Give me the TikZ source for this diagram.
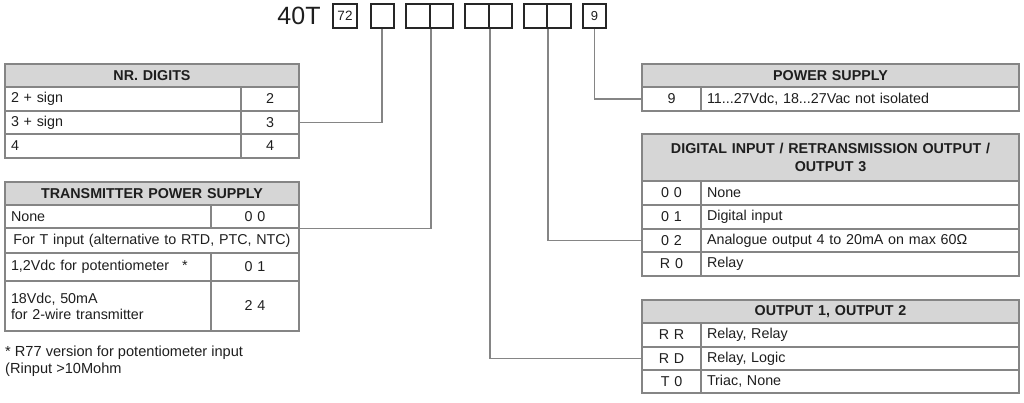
\documentclass[tikz,border=0pt]{standalone}
\usepackage{fontspec}
\setmainfont{Liberation Sans}
\definecolor{bord}{HTML}{858585}
\definecolor{hdr}{HTML}{D6D6D6}
\definecolor{txt}{HTML}{1E1E1E}
\tikzset{
 cellbox/.style={draw=bord, line width=1.3pt, inner sep=0pt, text=txt, font=\fontsize{14.3}{16}\selectfont},
 hdrcell/.style={fill=hdr, font=\fontsize{14.3}{18.5}\selectfont\bfseries, align=center},
 lcell/.style={align=left},
 ccell/.style={align=center},
 codebox/.style={draw=black!85, line width=2pt, inner sep=0pt, minimum height=24pt, text=txt},
 link/.style={draw=bord, line width=1.2pt},
 plain/.style={inner sep=0pt, text=txt, font=\fontsize{14.6}{17}\selectfont}
}
\newcommand\tcell[7]{\pgfmathsetlengthmacro\tcw{(#4-12)*1pt}\node[cellbox,#6,minimum width=#4pt,minimum height=#5pt,text width=\tcw] (#1) at ({#2+#4/2},{#3+#5/2}) {#7};}
\begin{document}
\begin{tikzpicture}[x=1pt,y=-1pt]
\useasboundingbox (0,0) rectangle (1024,403);
% code boxes
\node[plain, font=\fontsize{25}{28}\selectfont] (title) at (299,16) {40T};
\node[codebox, minimum width=24pt, font=\fontsize{13.5}{15}\selectfont] (b1) at (345,16) {72};
\node[codebox, minimum width=23pt] (b2) at (382,16) {};
\node[codebox, minimum width=24pt] (b3a) at (418,16) {};
\node[codebox, minimum width=23pt] (b3b) at (441.5,16) {};
\node[codebox, minimum width=24pt] (b4a) at (477,16) {};
\node[codebox, minimum width=23pt] (b4b) at (500.5,16) {};
\node[codebox, minimum width=23pt] (b5a) at (535.5,16) {};
\node[codebox, minimum width=24pt] (b5b) at (559,16) {};
\node[codebox, minimum width=23pt, font=\fontsize{13}{15}\selectfont] (b9) at (594.5,16) {9};
% table 1: NR. DIGITS
\tcell{t1h}{5}{64}{294}{23}{hdrcell}{NR. DIGITS}
\tcell{t1r1l}{5}{87}{236}{24}{lcell}{2 + sign}
\tcell{t1r1v}{241}{87}{58}{24}{ccell}{2}
\tcell{t1r2l}{5}{111}{236}{23}{lcell}{3 + sign}
\tcell{t1r2v}{241}{111}{58}{23}{ccell}{3}
\tcell{t1r3l}{5}{134}{236}{24}{lcell}{4}
\tcell{t1r3v}{241}{134}{58}{24}{ccell}{4}
% table 2: TRANSMITTER POWER SUPPLY
\tcell{t2h}{5}{182}{294}{23}{hdrcell}{TRANSMITTER POWER SUPPLY}
\tcell{t2r1l}{5}{205}{206}{23}{lcell}{None}
\tcell{t2r1v}{211}{205}{88}{23}{ccell}{0 0}
\tcell{t2r2}{5}{228}{294}{25}{ccell}{For T input (alternative to RTD, PTC, NTC)}
\tcell{t2r3l}{5}{253}{206}{28}{lcell}{1,2Vdc for potentiometer\hspace{13pt}*}
\tcell{t2r3v}{211}{253}{88}{28}{ccell}{0 1}
\tcell{t2r4l}{5}{281}{206}{50}{lcell}{18Vdc, 50mA\\for 2-wire transmitter}
\tcell{t2r4v}{211}{281}{88}{50}{ccell}{2 4}
\node[plain, anchor=north west, align=left] (note) at (5,346) {* R77 version for potentiometer input\\(Rinput >10Mohm};
% table 3: POWER SUPPLY
\tcell{p0}{642}{64}{377}{23}{hdrcell}{POWER SUPPLY}
\tcell{p1k}{642}{87}{59}{24}{ccell}{9}
\tcell{p1d}{701}{87}{318}{24}{lcell}{11...27Vdc, 18...27Vac not isolated}
% table 4: DIGITAL INPUT
\tcell{d0}{642}{134}{377}{47}{hdrcell}{DIGITAL INPUT / RETRANSMISSION OUTPUT /\\OUTPUT 3}
\tcell{d1k}{642}{181}{59}{24}{ccell}{0 0}
\tcell{d1d}{701}{181}{318}{24}{lcell}{None}
\tcell{d2k}{642}{205}{59}{24}{ccell}{0 1}
\tcell{d2d}{701}{205}{318}{24}{lcell}{Digital input}
\tcell{d3k}{642}{229}{59}{23}{ccell}{0 2}
\tcell{d3d}{701}{229}{318}{23}{lcell}{Analogue output 4 to 20mA on max 60Ω}
\tcell{d4k}{642}{252}{59}{24}{ccell}{R 0}
\tcell{d4d}{701}{252}{318}{24}{lcell}{Relay}
% table 5: OUTPUT 1, OUTPUT 2
\tcell{o0}{642}{300}{377}{23}{hdrcell}{OUTPUT 1, OUTPUT 2}
\tcell{o1k}{642}{323}{59}{24}{ccell}{R R}
\tcell{o1d}{701}{323}{318}{24}{lcell}{Relay, Relay}
\tcell{o2k}{642}{347}{59}{23}{ccell}{R D}
\tcell{o2d}{701}{347}{318}{23}{lcell}{Relay, Logic}
\tcell{o3k}{642}{370}{59}{23}{ccell}{T 0}
\tcell{o3d}{701}{370}{318}{23}{lcell}{Triac, None}
% connectors
\draw[link] (b2.south) |- (t1r2v.east);
\draw[link] (b3a.south east) |- (t2r1v.south east);
\draw[link] (b4a.south east) |- (o2k.west);
\draw[link] (b5a.south east) |- (d3k.west);
\draw[link] (b9.south) |- (p1k.west);
\end{tikzpicture}
\end{document}
